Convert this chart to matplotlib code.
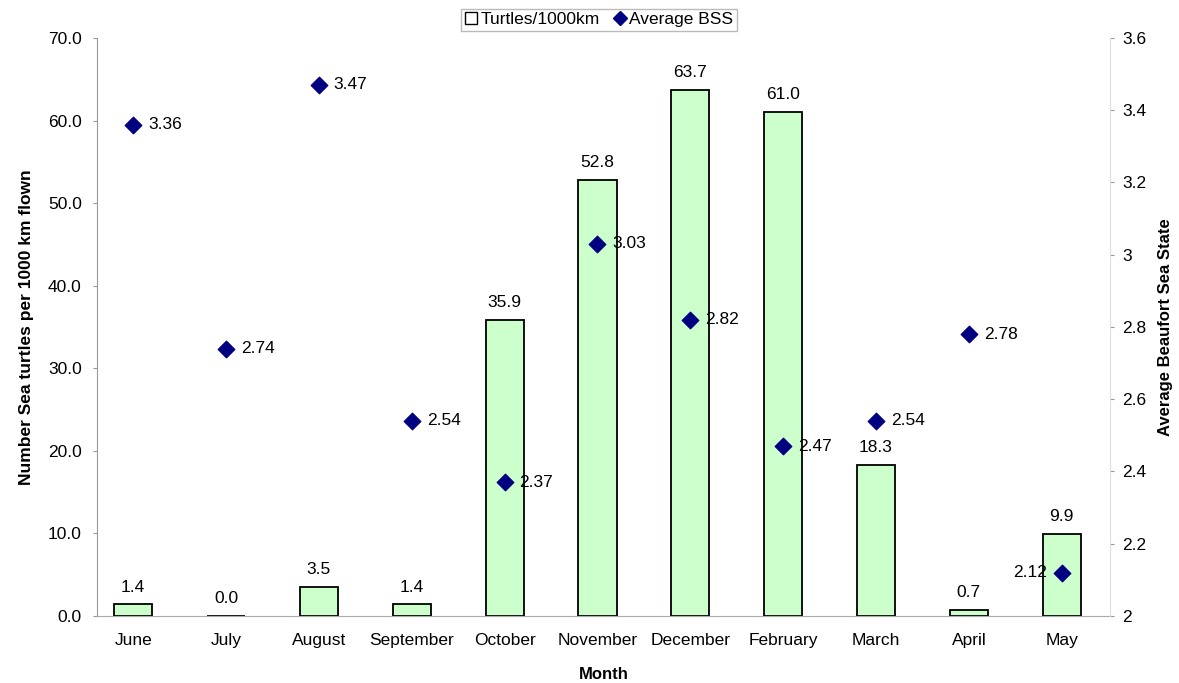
import matplotlib
matplotlib.use("Agg")
import matplotlib.pyplot as plt
from matplotlib.lines import Line2D
from matplotlib.patches import Patch

plt.rcParams['font.family'] = ['Liberation Sans', 'DejaVu Sans']

months = ["June", "July", "August", "September", "October", "November",
          "December", "February", "March", "April", "May"]
turtles = [1.4, 0.0, 3.5, 1.4, 35.9, 52.8, 63.7, 61.0, 18.3, 0.7, 9.9]
bss = [3.36, 2.74, 3.47, 2.54, 2.37, 3.03, 2.82, 2.47, 2.54, 2.78, 2.12]
left_ticks = [0, 10, 20, 30, 40, 50, 60, 70]
right_ticks = [2, 2.2, 2.4, 2.6, 2.8, 3, 3.2, 3.4, 3.6]
right_ticklabels = ["2", "2.2", "2.4", "2.6", "2.8", "3", "3.2", "3.4", "3.6"]

FS = 12.5
fig = plt.figure(figsize=(11.79, 6.83), dpi=100)
ax = fig.add_axes([0.0823, 0.0981, 0.8592, 0.8463])
x = list(range(len(months)))

ax.bar(x, turtles, width=0.41, color="#ccffcc", edgecolor="black", linewidth=1.3, zorder=2)
for xi, v in zip(x, turtles):
    ax.text(xi, v + 1.2, f"{v:.1f}", ha="center", va="bottom", fontsize=FS)

ax.set_xlim(-0.39, 10.52)
ax.set_ylim(0, 70)
ax.set_yticks(left_ticks)
ax.set_yticklabels([f"{t:.1f}" for t in left_ticks], fontsize=FS)
ax.set_xticks(x)
ax.set_xticklabels(months, fontsize=FS)
ax.tick_params(axis="x", length=0, pad=12)
ax.tick_params(axis="y", length=3, color="#999999", pad=8)
ax.set_xlabel("Month", fontsize=12, fontweight="bold", labelpad=14)
ax.set_ylabel("Number Sea turtles per 1000 km flown", fontsize=12.5, fontweight="bold", labelpad=10)
for s in ["top", "right"]:
    ax.spines[s].set_visible(False)
ax.spines["left"].set_color("#999999")
ax.spines["bottom"].set_color("#aaaaaa")

ax2 = ax.twinx()
ax2.scatter(x, bss, marker="D", s=70, color="#000080", zorder=3)
for xi, v in zip(x, bss):
    if months[xi] == "May":
        ax2.text(xi - 0.16, v, f"{v:.2f}", ha="right", va="center", fontsize=FS)
    else:
        ax2.text(xi + 0.16, v, f"{v:.2f}", ha="left", va="center", fontsize=FS)
ax2.set_ylim(2, 3.6)
ax2.set_yticks(right_ticks)
ax2.set_yticklabels(right_ticklabels, fontsize=FS)
ax2.tick_params(axis="y", length=3, color="#999999", pad=6)
ax2.set_ylabel("Average Beaufort Sea State", fontsize=12, fontweight="bold", labelpad=8)
for s in ["top", "left", "bottom"]:
    ax2.spines[s].set_visible(False)
ax2.spines["right"].set_color("#dddddd")

handles = [Patch(facecolor="white", edgecolor="black", label="Turtles/1000km"),
           Line2D([], [], marker="D", color="#000080", linestyle="none", markersize=7, label="Average BSS")]
fig.legend(handles=handles, loc="upper center", bbox_to_anchor=(0.508, 1.0), ncol=2,
           fontsize=12.5, frameon=True, fancybox=False, edgecolor="#aaaaaa",
           handlelength=0.7, handletextpad=0.2, columnspacing=0.8, borderpad=0.2)

fig.savefig("out.png", dpi=100)
